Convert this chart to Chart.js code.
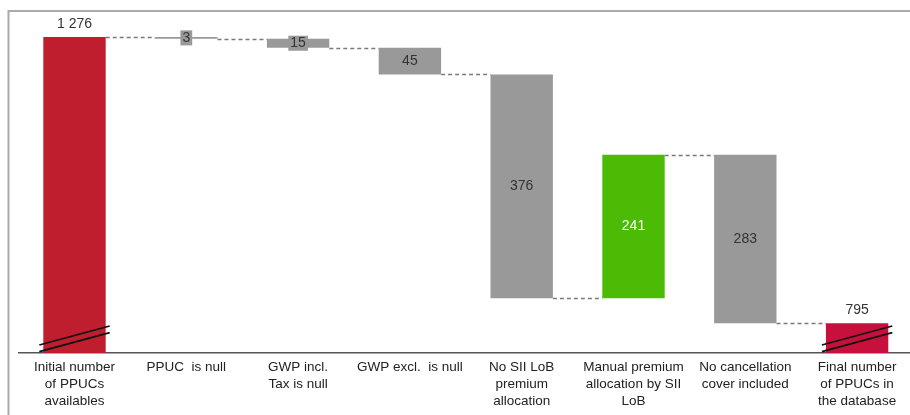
<!DOCTYPE html>
<html>
<head>
<meta charset="utf-8">
<script src="https://cdn.jsdelivr.net/npm/chart.js@4/dist/chart.umd.min.js"></script>
<style>
  html, body { margin: 0; padding: 0; background: #fff; overflow: hidden; }
  body { width: 910px; height: 415px; position: relative; }
  #wrap { position: absolute; left: 0; top: 0; width: 913px; height: 415px; }
</style>
</head>
<body>
<div id="wrap"><canvas id="c"></canvas></div>
<script>
// Steps of the PPUC reconciliation
const categories = [
  ["Initial number", "of PPUCs", "availables"],
  ["PPUC  is null"],
  ["GWP incl.", "Tax is null"],
  ["GWP excl.  is null"],
  ["No SII LoB", "premium", "allocation"],
  ["Manual premium", "allocation by SII", "LoB"],
  ["No cancellation", "cover included"],
  ["Final number", "of PPUCs in", "the database"]
];
const values = [1276, -3, -15, -45, -376, 241, -283, 795];
const isTotal = [true, false, false, false, false, false, false, true];
const barColors = ["#BE1E2D", "#999999", "#999999", "#999999", "#999999", "#4BBB06", "#999999", "#C8103D"];
const labelColors = ["#333", "#333", "#333", "#333", "#333", "#fff", "#333", "#333"];

// Floating ranges for the waterfall
const ranges = [];
const levels = [];
let running = 0;
values.forEach((v, i) => {
  if (isTotal[i]) {
    ranges.push([0, v]);
    running = v;
  } else {
    ranges.push([running, running + v]);
    running += v;
  }
  levels.push(running);
});

function fmt(n) {
  return String(Math.abs(n)).replace(/\B(?=(\d{3})+(?!\d))/g, " ");
}

const FONT = "'Liberation Sans', Arial, sans-serif";

const framePlugin = {
  id: 'frame',
  beforeDraw(chart) {
    const ctx = chart.ctx;
    ctx.save();
    ctx.strokeStyle = '#aaaaaa';
    ctx.lineWidth = 2;
    ctx.beginPath();
    ctx.moveTo(8.5, 415);
    ctx.lineTo(8.5, 11);
    ctx.lineTo(913, 11);
    ctx.stroke();
    ctx.restore();
  }
};

const connectorPlugin = {
  id: 'connectors',
  beforeDatasetsDraw(chart) {
    const ctx = chart.ctx;
    const meta = chart.getDatasetMeta(0);
    const y = chart.scales.y;
    ctx.save();
    ctx.strokeStyle = '#7a7a7a';
    ctx.lineWidth = 1.3;
    ctx.setLineDash([4, 3]);
    for (let i = 0; i < meta.data.length - 1; i++) {
      const a = meta.data[i], b = meta.data[i + 1];
      const py = Math.round(y.getPixelForValue(levels[i])) + 0.5;
      ctx.beginPath();
      ctx.moveTo(a.x + a.width / 2, py);
      ctx.lineTo(b.x - b.width / 2, py);
      ctx.stroke();
    }
    ctx.restore();
  }
};

const labelPlugin = {
  id: 'valueLabels',
  afterDatasetsDraw(chart) {
    const ctx = chart.ctx;
    const meta = chart.getDatasetMeta(0);
    const area = chart.chartArea;
    ctx.save();
    ctx.font = '14px ' + FONT;
    ctx.textAlign = 'center';
    ctx.textBaseline = 'middle';
    meta.data.forEach((bar, i) => {
      const txt = fmt(values[i]);
      if (isTotal[i]) {
        ctx.fillStyle = '#333';
        ctx.fillText(txt, bar.x, bar.y - 13);
      } else {
        const top = Math.min(bar.y, bar.base);
        const bottom = Math.max(bar.y, bar.base);
        const cy = (top + bottom) / 2;
        const h = bottom - top;
        if (h < 16) {
          const w = ctx.measureText(txt).width + 4;
          ctx.fillStyle = barColors[i];
          ctx.fillRect(bar.x - w / 2, cy - 7.5, w, 15);
        }
        ctx.fillStyle = labelColors[i];
        ctx.fillText(txt, bar.x, cy);
      }
    });

    // axis break marks on the total bars
    ctx.strokeStyle = '#111';
    ctx.lineWidth = 1.8;
    meta.data.forEach((bar, i) => {
      if (!isTotal[i]) return;
      const l = bar.x - bar.width / 2 - 4;
      const r = bar.x + bar.width / 2 + 4;
      const b = area.bottom;
      ctx.beginPath();
      ctx.moveTo(l, b - 8);
      ctx.lineTo(r, b - 27);
      ctx.moveTo(l, b - 1.3);
      ctx.lineTo(r, b - 20.3);
      ctx.stroke();
    });
    ctx.restore();
  }
};

new Chart(document.getElementById('c'), {
  type: 'bar',
  data: {
    labels: categories,
    datasets: [{
      data: ranges,
      backgroundColor: barColors,
      borderWidth: 0,
      borderSkipped: false,
      categoryPercentage: 1,
      barPercentage: 0.558
    }]
  },
  options: {
    responsive: true,
    maintainAspectRatio: false,
    animation: false,
    layout: { padding: { left: 18.6, right: 0, top: 12, bottom: 0 } },
    plugins: {
      legend: { display: false },
      tooltip: { enabled: false }
    },
    scales: {
      x: {
        grid: { display: false, drawTicks: false },
        border: { display: true, color: '#555555', width: 1.5 },
        ticks: {
          color: '#222',
          padding: 6,
          maxRotation: 0,
          autoSkip: false,
          font: { family: FONT, size: 13.5, lineHeight: 1.26 }
        },
        afterFit(scale) { scale.height = 62; }
      },
      y: {
        display: false,
        min: 745,
        max: 1318
      }
    }
  },
  plugins: [framePlugin, connectorPlugin, labelPlugin]
});
</script>
</body>
</html>
